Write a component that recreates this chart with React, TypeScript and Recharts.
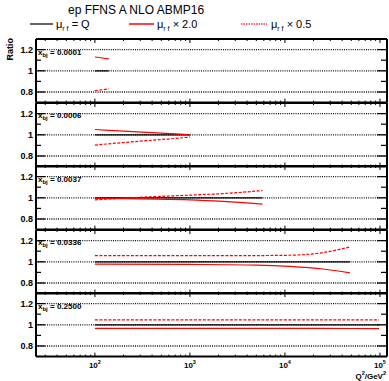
import React from "react";
import { LineChart, Line, XAxis, YAxis, ReferenceLine } from "recharts";

const FONT = "'Liberation Sans', Arial, Helvetica, sans-serif";
const WIDTH = 389;
const PANEL_TOP = 39;
const PANEL_H = 63.6;
const PAD = 4;

// x_bj of each panel, top to bottom
const xbjValues = ["0.0001", "0.0006", "0.0037", "0.0336", "0.2500"];

// Q^2 nodes per panel (GeV^2)
const q2Nodes = [
  [100, 120, 140],
  [100, 200, 400, 700, 1000],
  [100, 200, 450, 1000, 2250, 5800],
  [100, 1000, 5000, 11300, 25300, 48300],
  [100, 1000, 10000, 50000, 98000],
];

// ratio to mu_rf = Q
const ratioNominal = [
  [1, 1, 1],
  [1, 1, 1, 1, 1],
  [1, 1, 1, 1, 1, 1],
  [1, 1, 1, 1, 1, 1],
  [1, 1, 1, 1, 1],
];

// mu_rf x 2.0
const ratioUp = [
  [1.13, 1.121, 1.112],
  [1.05, 1.035, 1.02, 1.008, 1.0],
  [0.994, 0.991, 0.988, 0.981, 0.966, 0.941],
  [0.978, 0.975, 0.969, 0.957, 0.932, 0.895],
  [0.966, 0.966, 0.966, 0.965, 0.963],
];

// mu_rf x 0.5
const ratioDown = [
  [0.814, 0.821, 0.829],
  [0.903, 0.927, 0.949, 0.966, 0.978],
  [0.981, 0.997, 1.012, 1.025, 1.04, 1.068],
  [1.059, 1.059, 1.059, 1.062, 1.087, 1.14],
  [1.046, 1.046, 1.046, 1.046, 1.046],
];

const xDomain = [24, 118600];
const xMajor = [100, 1000, 10000, 100000];
const xMinor = [
  30, 40, 50, 60, 70, 80, 90,
  200, 300, 400, 500, 600, 700, 800, 900,
  2000, 3000, 4000, 5000, 6000, 7000, 8000, 9000,
  20000, 30000, 40000, 50000, 60000, 70000, 80000, 90000,
];
const xTicks = [...xMajor, ...xMinor].sort((a, b) => a - b);
const xExponents = ["2", "3", "4", "5"];

const yMajor = [0.8, 1, 1.2];
const yMajorLabels = ["0.8", "1", "1.2"];
const yTicks = [0.8, 0.9, 1, 1.1, 1.2];

function XTick(props: any) {
  const { x, y, payload, dir, showLabel } = props;
  const idx = xMajor.indexOf(payload.value);
  const len = idx >= 0 ? 4 : 2;
  return (
    <g>
      <line x1={x} x2={x} y1={y} y2={y + dir * len} stroke="#000" strokeWidth={1} />
      {showLabel && idx >= 0 && (
        <text x={x} y={y + 11} textAnchor="middle" fontFamily={FONT} fontSize={8} fontWeight="bold" fill="#000">
          10
          <tspan fontSize={5.5} dy={-4}>{xExponents[idx]}</tspan>
        </text>
      )}
    </g>
  );
}

function YTick(props: any) {
  const { x, y, payload, side } = props;
  const idx = yMajor.findIndex((v) => Math.abs(v - payload.value) < 1e-6);
  const major = idx >= 0;
  const len = side === "left" ? (major ? 9 : 5) : major ? 10 : 6;
  const dir = side === "left" ? 1 : -1;
  return (
    <g>
      <line x1={x} x2={x + dir * len} y1={y} y2={y} stroke="#000" strokeWidth={1.2} />
      {side === "left" && major && (
        <text x={x - 3} y={y + 3} textAnchor="end" fontFamily={FONT} fontSize={9} fontWeight="bold" fill="#000">
          {yMajorLabels[idx]}
        </text>
      )}
    </g>
  );
}

function Panel({ i }: { i: number }) {
  const last = i === xbjValues.length - 1;
  const data = q2Nodes[i].map((q2, k) => ({
    q2,
    nominal: ratioNominal[i][k],
    up: ratioUp[i][k],
    down: ratioDown[i][k],
  }));
  const bottomPad = last ? 26 : PAD;
  const top = PANEL_TOP + i * PANEL_H - PAD;
  // x axes take 1px each, so the margins give up that pixel
  return (
    <div style={{ position: "absolute", left: 0, top }}>
      <LineChart
        width={WIDTH}
        height={PANEL_H + PAD + bottomPad}
        data={data}
        margin={{ top: PAD - 1, right: 0, bottom: bottomPad - 1, left: 0 }}
      >
        <XAxis
          xAxisId="b"
          dataKey="q2"
          type="number"
          scale="log"
          domain={xDomain}
          allowDataOverflow
          ticks={xTicks}
          interval={0}
          height={1}
          tickSize={0}
          tickMargin={0}
          tickLine={false}
          axisLine={{ stroke: "#000", strokeWidth: 2 }}
          tick={(p: any) => <XTick {...p} dir={-1} showLabel={last} />}
        />
        <XAxis
          xAxisId="t"
          orientation="top"
          dataKey="q2"
          type="number"
          scale="log"
          domain={xDomain}
          allowDataOverflow
          ticks={xTicks}
          interval={0}
          height={1}
          tickSize={0}
          tickMargin={0}
          tickLine={false}
          axisLine={{ stroke: "#000", strokeWidth: 2 }}
          tick={(p: any) => <XTick {...p} dir={1} showLabel={false} />}
        />
        <YAxis
          yAxisId="l"
          type="number"
          domain={[0.7, 1.3]}
          allowDataOverflow
          ticks={yTicks}
          interval={0}
          width={36}
          tickSize={0}
          tickMargin={0}
          tickLine={false}
          axisLine={{ stroke: "#000", strokeWidth: 2 }}
          tick={(p: any) => <YTick {...p} side="left" />}
        />
        <YAxis
          yAxisId="r"
          orientation="right"
          type="number"
          domain={[0.7, 1.3]}
          allowDataOverflow
          ticks={yTicks}
          interval={0}
          width={2}
          tickSize={0}
          tickMargin={0}
          tickLine={false}
          axisLine={{ stroke: "#000", strokeWidth: 2 }}
          tick={(p: any) => <YTick {...p} side="right" />}
        />
        {yMajor.map((v) => (
          <ReferenceLine
            key={v}
            xAxisId="b"
            yAxisId="l"
            y={v}
            stroke="#111"
            strokeWidth={1.3}
            strokeDasharray="1 1.2"
          />
        ))}
        <Line xAxisId="b" yAxisId="l" dataKey="nominal" type="monotone" stroke="#000" strokeWidth={1.2} dot={false} isAnimationActive={false} />
        <Line xAxisId="b" yAxisId="l" dataKey="up" type="monotone" stroke="#ff0000" strokeWidth={1.2} dot={false} isAnimationActive={false} />
        <Line xAxisId="b" yAxisId="l" dataKey="down" type="monotone" stroke="#ff0000" strokeWidth={1.2} strokeDasharray="3 1.5" dot={false} isAnimationActive={false} />
      </LineChart>
    </div>
  );
}

function MuLabel({ x, y, tail }: { x: number; y: number; tail: string }) {
  return (
    <text x={x} y={y} fontFamily={FONT} fontSize={11} fill="#000">
      μ
      <tspan fontSize={7} dy={3}>{"r f"}</tspan>
      <tspan dy={-3}>{tail}</tspan>
    </text>
  );
}

export default function App() {
  return (
    <div style={{ position: "absolute", left: 0, top: 0, width: WIDTH, height: 381, background: "#fff" }}>
      {xbjValues.map((_, i) => (
        <Panel key={i} i={i} />
      ))}
      <svg width={WIDTH} height={381} style={{ position: "absolute", left: 0, top: 0, pointerEvents: "none" }}>
        <text x={68} y={14} fontFamily={FONT} fontSize={12} fill="#000">
          ep FFNS A NLO ABMP16
        </text>
        <line x1={30} x2={53} y1={24} y2={24} stroke="#333" strokeWidth={1.5} />
        <MuLabel x={56} y={28} tail=" = Q" />
        <line x1={129} x2={154} y1={24} y2={24} stroke="#ff0000" strokeWidth={1.5} />
        <MuLabel x={157} y={28} tail=" × 2.0" />
        <line x1={241} x2={267} y1={24} y2={24} stroke="#ff3030" strokeWidth={1.5} strokeDasharray="1.5 1" />
        <MuLabel x={271} y={28} tail=" × 0.5" />
        <text transform="translate(13,38) rotate(-90)" textAnchor="end" fontFamily={FONT} fontSize={9} fontWeight="bold" fill="#000">
          Ratio
        </text>
        {xbjValues.map((v, i) => (
          <text key={v} x={38} y={PANEL_TOP + i * PANEL_H + 15.5} fontFamily={FONT} fontSize={8} fontWeight="bold" fill="#000">
            x
            <tspan fontSize={6} dy={2}>bj</tspan>
            <tspan dy={-2}>{` = ${v}`}</tspan>
          </text>
        ))}
        <text x={386} y={379} textAnchor="end" fontFamily={FONT} fontSize={8} fontWeight="bold" fill="#000">
          Q<tspan fontSize={5.5} dy={-4}>2</tspan>
          <tspan dy={4}>/GeV</tspan>
          <tspan fontSize={5.5} dy={-4}>2</tspan>
        </text>
      </svg>
    </div>
  );
}
